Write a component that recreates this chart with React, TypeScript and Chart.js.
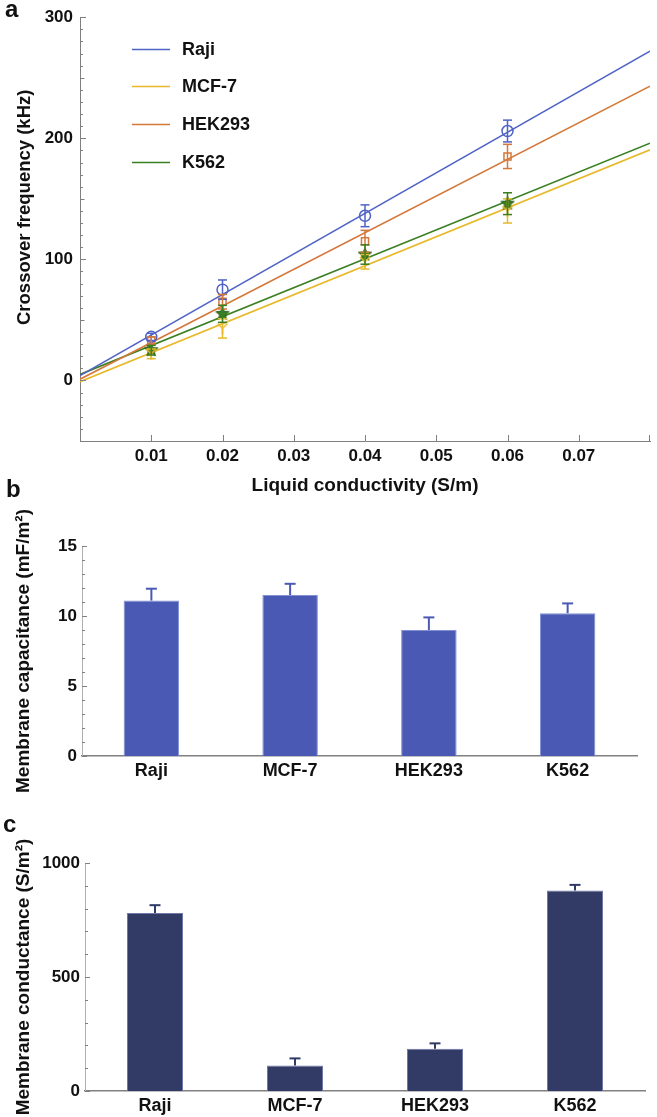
import React, { useEffect, useRef } from 'react';
import { Chart, registerables } from 'chart.js';

Chart.register(...registerables);

const FONT = '"Liberation Sans", Arial, Helvetica, sans-serif';
const AXIS = '#808080';

// ---------- Panel a data ----------
const conductivity = [0.01, 0.02, 0.04, 0.06];
const cellLines = ['Raji', 'MCF-7', 'HEK293', 'K562'];
const rajiFreq = [36, 75, 136, 206];
const rajiErr = [3, 8, 9, 9];
const mcf7Freq = [22, 43, 98, 140];
const mcf7Err = [4, 8, 6, 10];
const hekFreq = [33, 65, 115, 185];
const hekErr = [3, 6, 9, 10];
const k562Freq = [25, 55, 104, 146];
const k562Err = [4, 7, 8, 9];
const fitX = [0, 0.08];
const rajiFit = [4, 272];
const mcf7Fit = [-1, 190.5];
const hekFit = [1, 243];
const k562Fit = [5, 196];
const xTickValuesA = [0.01, 0.02, 0.03, 0.04, 0.05, 0.06, 0.07];
const yTickValuesA = [0, 100, 200, 300];
const yTitleA = 'Crossover frequency (kHz)';

// ---------- Panel b data ----------
const barCategories = ['Raji', 'MCF-7', 'HEK293', 'K562'];
const capacitance = [11.1, 11.5, 9.0, 10.2];
const capacitanceErr = [0.85, 0.8, 0.9, 0.7];
const yTickValuesB = [0, 5, 10, 15];

// ---------- Panel c data ----------
const conductance = [781, 112, 185, 879];
const conductanceErr = [34, 31, 24, 25];
const yTickValuesC = [0, 500, 1000];

const COLORS = ['#4f63c6', '#e8b92a', '#d4783b', '#3a7f22'];

function makeMarker(kind: string, color: string): HTMLCanvasElement {
  const c = document.createElement('canvas');
  c.width = 16;
  c.height = 16;
  const ctx = c.getContext('2d')!;
  ctx.translate(8, 8);
  ctx.strokeStyle = color;
  ctx.lineWidth = 1.5;
  if (kind === 'star') {
    ctx.beginPath();
    for (let i = 0; i < 10; i++) {
      const r = i % 2 === 0 ? 7 : 3;
      const a = -Math.PI / 2 + (i * Math.PI) / 5;
      const px = r * Math.cos(a);
      const py = r * Math.sin(a);
      if (i === 0) ctx.moveTo(px, py);
      else ctx.lineTo(px, py);
    }
    ctx.closePath();
    ctx.fillStyle = color;
    ctx.fill();
    ctx.lineWidth = 1;
    ctx.strokeStyle = '#2a5e18';
    ctx.stroke();
  } else if (kind === 'tri') {
    ctx.beginPath();
    ctx.moveTo(0, 0);
    ctx.lineTo(-5, -5);
    ctx.moveTo(0, 0);
    ctx.lineTo(5, -5);
    ctx.moveTo(0, 0);
    ctx.lineTo(0, 6);
    ctx.stroke();
  }
  return c;
}

function useChart(build: () => any) {
  const ref = useRef<HTMLCanvasElement | null>(null);
  useEffect(() => {
    if (!ref.current) return;
    const chart = new Chart(ref.current, build());
    return () => chart.destroy();
  }, []);
  return ref;
}

function drawLine(ctx: CanvasRenderingContext2D, x1: number, y1: number, x2: number, y2: number) {
  ctx.beginPath();
  ctx.moveTo(x1, y1);
  ctx.lineTo(x2, y2);
  ctx.stroke();
}

function PanelA() {
  const ref = useChart(() => {
    const freqs = [rajiFreq, mcf7Freq, hekFreq, k562Freq];
    const errs = [rajiErr, mcf7Err, hekErr, k562Err];
    const fits = [rajiFit, mcf7Fit, hekFit, k562Fit];
    const markers: any[] = [
      'circle',
      makeMarker('tri', COLORS[1]),
      'rect',
      makeMarker('star', COLORS[3]),
    ];
    const fitSets = cellLines.map((name, i) => ({
      label: name + ' fit',
      data: fitX.map((x, j) => ({ x, y: fits[i][j] })),
      showLine: true,
      borderColor: COLORS[i],
      borderWidth: 1.6,
      pointRadius: 0,
      order: 2,
    }));
    const pointSets = cellLines.map((name, i) => ({
      label: name,
      data: conductivity.map((x, j) => ({ x, y: freqs[i][j] })),
      errors: errs[i],
      showLine: false,
      pointStyle: markers[i],
      pointRadius: i === 2 ? 5 : 5.5,
      pointBorderColor: COLORS[i],
      pointBackgroundColor: 'rgba(255,255,255,0)',
      pointBorderWidth: 1.5,
      order: 1,
    }));

    const errorPlugin = {
      id: 'errA',
      afterDatasetsDraw(chart: any) {
        const { ctx } = chart;
        const xs = chart.scales.x;
        const ys = chart.scales.y;
        ctx.save();
        ctx.lineWidth = 1.5;
        chart.data.datasets.forEach((ds: any) => {
          if (!ds.errors) return;
          ctx.strokeStyle = ds.pointBorderColor;
          ds.data.forEach((p: any, j: number) => {
            const px = xs.getPixelForValue(p.x);
            const top = ys.getPixelForValue(p.y + ds.errors[j]);
            const bot = ys.getPixelForValue(p.y - ds.errors[j]);
            drawLine(ctx, px, top, px, bot);
            drawLine(ctx, px - 4.5, top, px + 4.5, top);
            drawLine(ctx, px - 4.5, bot, px + 4.5, bot);
          });
        });
        ctx.restore();
      },
    };

    const tickPlugin = {
      id: 'ticksA',
      afterDraw(chart: any) {
        const { ctx, chartArea } = chart;
        const xs = chart.scales.x;
        const ys = chart.scales.y;
        ctx.save();
        ctx.strokeStyle = AXIS;
        ctx.lineWidth = 1;
        for (let v = -50; v <= 300; v += 10) {
          const py = Math.round(ys.getPixelForValue(v)) + 0.5;
          const len = v % 100 === 0 ? 6 : v % 50 === 0 ? 4.5 : 3;
          drawLine(ctx, chartArea.left, py, chartArea.left + len, py);
        }
        for (const v of xTickValuesA) {
          const px = Math.round(xs.getPixelForValue(v)) + 0.5;
          drawLine(ctx, px, chartArea.bottom, px, chartArea.bottom - 6);
        }
        const pxEnd = Math.round(xs.getPixelForValue(0.08)) - 0.5;
        drawLine(ctx, pxEnd, chartArea.bottom, pxEnd, chartArea.bottom - 6);
        // y title (placed as in the original figure, above the axis centre)
        ctx.save();
        ctx.translate(25, ys.getPixelForValue(143));
        ctx.rotate(-Math.PI / 2);
        ctx.font = `bold 18.5px ${FONT}`;
        ctx.textAlign = 'center';
        ctx.textBaseline = 'middle';
        ctx.fillStyle = '#111';
        ctx.fillText(yTitleA, 0, 0);
        ctx.restore();
        // legend
        const rows = [49, 86, 124, 162];
        ctx.font = `bold 18px ${FONT}`;
        ctx.textBaseline = 'middle';
        ctx.fillStyle = '#111';
        cellLines.forEach((name, i) => {
          ctx.strokeStyle = COLORS[i];
          ctx.lineWidth = 1.6;
          drawLine(ctx, 132, rows[i] + 0.5, 170, rows[i] + 0.5);
          ctx.fillText(name, 182, rows[i] + 1);
        });
        ctx.restore();
      },
    };

    return {
      type: 'scatter',
      data: { datasets: [...fitSets, ...pointSets] },
      plugins: [errorPlugin, tickPlugin],
      options: {
        animation: false,
        responsive: false,
        events: [],
        layout: { padding: { top: 13, right: 5, left: 0, bottom: 0 } },
        plugins: { legend: { display: false }, tooltip: { enabled: false } },
        scales: {
          x: {
            type: 'linear',
            min: 0,
            max: 0.08,
            afterBuildTicks: (s: any) => {
              s.ticks = xTickValuesA.map((v) => ({ value: v }));
            },
            afterFit: (s: any) => {
              s.height = 56;
            },
            ticks: {
              autoSkip: false,
              maxRotation: 0,
              padding: 5,
              color: '#111',
              font: { family: FONT, size: 17, weight: 'bold' },
              callback: (v: any) => Number(v).toFixed(2),
            },
            grid: { display: false, drawTicks: false },
            border: { display: true, color: AXIS, width: 1 },
            title: {
              display: true,
              text: 'Liquid conductivity (S/m)',
              color: '#111',
              font: { family: FONT, size: 19, weight: 'bold' },
              padding: { top: 0, bottom: 0 },
            },
          },
          y: {
            type: 'linear',
            min: -50,
            max: 300,
            afterBuildTicks: (s: any) => {
              s.ticks = yTickValuesA.map((v) => ({ value: v }));
            },
            afterFit: (s: any) => {
              s.width = 80;
            },
            ticks: {
              autoSkip: false,
              padding: 7,
              color: '#111',
              font: { family: FONT, size: 17, weight: 'bold' },
              callback: (v: any) => String(v),
            },
            grid: { display: false, drawTicks: false },
            border: { display: true, color: AXIS, width: 1 },
            title: { display: false },
          },
        },
      },
    };
  });
  return <canvas ref={ref} width={657} height={497} style={{ position: 'absolute', left: 0, top: 0 }} />;
}

function BarPanel(props: {
  top: number;
  height: number;
  values: number[];
  errors: number[];
  yTicks: number[];
  minorStep: number;
  color: string;
  edge: string;
  title: string;
  padTop: number;
  padRight: number;
  yWidth: number;
  xHeight: number;
}) {
  const p = props;
  const ref = useChart(() => {
    const yMax = p.yTicks[p.yTicks.length - 1];
    const errPlugin = {
      id: 'errBar',
      afterDatasetsDraw(chart: any) {
        const { ctx, chartArea } = chart;
        const ys = chart.scales.y;
        const meta = chart.getDatasetMeta(0);
        ctx.save();
        ctx.strokeStyle = p.color;
        ctx.lineWidth = 2;
        meta.data.forEach((bar: any, i: number) => {
          const top = ys.getPixelForValue(p.values[i]);
          const cap = ys.getPixelForValue(p.values[i] + p.errors[i]);
          drawLine(ctx, bar.x, top, bar.x, cap);
          drawLine(ctx, bar.x - 5.5, cap, bar.x + 5.5, cap);
        });
        // inward ticks on y axis
        ctx.strokeStyle = AXIS;
        ctx.lineWidth = 1;
        for (let v = 0; v <= yMax + 1e-9; v += p.minorStep) {
          const py = Math.round(ys.getPixelForValue(v)) + 0.5;
          const major = p.yTicks.some((t) => Math.abs(t - v) < 1e-6);
          drawLine(ctx, chartArea.left, py, chartArea.left + (major ? 5 : 3), py);
        }
        ctx.restore();
      },
    };
    return {
      type: 'bar',
      data: {
        labels: barCategories,
        datasets: [
          {
            data: p.values,
            backgroundColor: p.color,
            borderColor: p.edge,
            borderWidth: 1,
            barPercentage: 0.4,
            categoryPercentage: 1,
          },
        ],
      },
      plugins: [errPlugin],
      options: {
        animation: false,
        responsive: false,
        events: [],
        layout: { padding: { top: p.padTop, right: p.padRight, left: 0, bottom: 0 } },
        plugins: { legend: { display: false }, tooltip: { enabled: false } },
        scales: {
          x: {
            type: 'category',
            afterFit: (s: any) => {
              s.height = p.xHeight;
            },
            ticks: {
              padding: 4,
              color: '#111',
              font: { family: FONT, size: 18, weight: 'bold' },
              maxRotation: 0,
            },
            grid: { display: false, drawTicks: false },
            border: { display: true, color: AXIS, width: 1.5 },
          },
          y: {
            type: 'linear',
            min: 0,
            max: yMax,
            afterBuildTicks: (s: any) => {
              s.ticks = p.yTicks.map((v) => ({ value: v }));
            },
            afterFit: (s: any) => {
              s.width = p.yWidth;
            },
            ticks: {
              autoSkip: false,
              padding: 5,
              color: '#111',
              font: { family: FONT, size: 17, weight: 'bold' },
              callback: (v: any) => String(v),
            },
            grid: { display: false, drawTicks: false },
            border: { display: true, color: '#b0b0b0', width: 1 },
            title: {
              display: true,
              text: p.title,
              color: '#111',
              font: { family: FONT, size: 19, weight: 'bold' },
              padding: { top: 12, bottom: 0 },
            },
          },
        },
      },
    };
  });
  return (
    <canvas
      ref={ref}
      width={657}
      height={p.height}
      style={{ position: 'absolute', left: 0, top: p.top }}
    />
  );
}

const letterStyle = (left: number, baseline: number): React.CSSProperties => ({
  position: 'absolute',
  left,
  top: baseline - 20,
  font: `bold 24px ${FONT}`,
  lineHeight: '24px',
  color: '#111',
});

export default function App() {
  return (
    <div
      style={{
        position: 'fixed',
        left: 0,
        top: 0,
        width: 657,
        height: 1117,
        background: '#fff',
        overflow: 'hidden',
      }}
    >
      <PanelA />
      <BarPanel
        top={497}
        height={298}
        values={capacitance}
        errors={capacitanceErr}
        yTicks={yTickValuesB}
        minorStep={1}
        color="#4a5ab4"
        edge="#8390d4"
        title="Membrane capacitance (mF/m²)"
        padTop={49}
        padRight={20}
        yWidth={82}
        xHeight={39}
      />
      <BarPanel
        top={800}
        height={317}
        values={conductance}
        errors={conductanceErr}
        yTicks={yTickValuesC}
        minorStep={100}
        color="#323a66"
        edge="#6f78a6"
        title="Membrane conductance (S/m²)"
        padTop={63}
        padRight={12}
        yWidth={85}
        xHeight={26}
      />
      <div style={letterStyle(5, 17)}>a</div>
      <div style={letterStyle(6, 497)}>b</div>
      <div style={letterStyle(3, 832)}>c</div>
    </div>
  );
}
